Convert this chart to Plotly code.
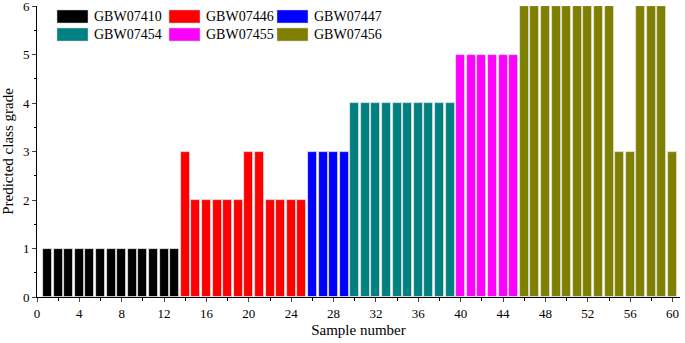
import plotly.graph_objects as go

names = ["GBW07410", "GBW07446", "GBW07447", "GBW07454", "GBW07455", "GBW07456"]
colors = ["#000000", "#FF0000", "#0000FF", "#008080", "#FF00FF", "#808000"]
samples = [
    list(range(1, 14)),
    list(range(14, 26)),
    list(range(26, 30)),
    list(range(30, 40)),
    list(range(40, 46)),
    list(range(46, 61)),
]
grades = [
    [1] * 13,
    [3, 2, 2, 2, 2, 2, 3, 3, 2, 2, 2, 2],
    [3, 3, 3, 3],
    [4] * 10,
    [5] * 6,
    [6, 6, 6, 6, 6, 6, 6, 6, 6, 3, 3, 6, 6, 6, 3],
]
x_ticks = list(range(0, 61, 4))

FONT = "Liberation Serif"
fig = go.Figure()
for n, c, xs, ys in zip(names, colors, samples, grades):
    fig.add_trace(go.Bar(x=xs, y=ys, name=n, marker=dict(color=c, line=dict(color="#e6e6e6", width=0.8)),
                         width=0.85, showlegend=False))

# legend drawn as wide swatches (3 columns x 2 rows)
W, H = 685, 343
L, R, T, B = 37, 5, 6, 46
pw, ph = W - L - R, H - T - B
col_x = [57, 169, 277]
row_y = [10, 28]
shapes, annots = [], []
for i, (n, c) in enumerate(zip(names, colors)):
    cx = col_x[i % 3]
    ry = row_y[i // 3]
    x0 = (cx - L) / pw
    x1 = (cx + 31 - L) / pw
    y0 = (H - B - ry) / ph
    y1 = (H - B - ry - 13) / ph
    shapes.append(dict(type="rect", xref="paper", yref="paper", x0=x0, x1=x1, y0=y1, y1=y0,
                       fillcolor=c, line=dict(color="#cccccc", width=0.5)))
    annots.append(dict(xref="paper", yref="paper", x=(cx + 35 - L) / pw, y=(H - B - ry - 6.5) / ph,
                       text=n, showarrow=False, xanchor="left", yanchor="middle",
                       font=dict(family=FONT, size=14, color="#000")))

fig.update_layout(
    width=W, height=H, margin=dict(l=L, r=R, t=T, b=B),
    paper_bgcolor="white", plot_bgcolor="white",
    bargap=0, shapes=shapes, annotations=annots,
    font=dict(family=FONT, size=13, color="#000"),
)
fig.update_xaxes(range=[0, 60.7], tickvals=x_ticks, ticks="outside", ticklen=4, tickwidth=1,
                 minor=dict(dtick=2, tick0=0, ticks="outside", ticklen=2.5, tickcolor="#000"),
                 showline=True, linecolor="#000", linewidth=1, showgrid=False, zeroline=False,
                 automargin=False, ticklabeloverflow="allow",
                 title=dict(text="Sample number", font=dict(family=FONT, size=15), standoff=4),
                 tickfont=dict(family=FONT, size=13))
fig.update_yaxes(range=[0, 6], tickvals=[0, 1, 2, 3, 4, 5, 6], ticks="outside", ticklen=4, tickwidth=1,
                 minor=dict(dtick=0.5, tick0=0, ticks="outside", ticklen=2.5, tickcolor="#000"),
                 showline=True, linecolor="#000", linewidth=1, showgrid=False, zeroline=False,
                 automargin=False, ticklabeloverflow="allow",
                 title=dict(text="Predicted class grade", font=dict(family=FONT, size=15), standoff=6),
                 tickfont=dict(family=FONT, size=13))

fig.write_html("out.html", config={"displayModeBar": False},
               post_script="document.body.style.margin='0';")
